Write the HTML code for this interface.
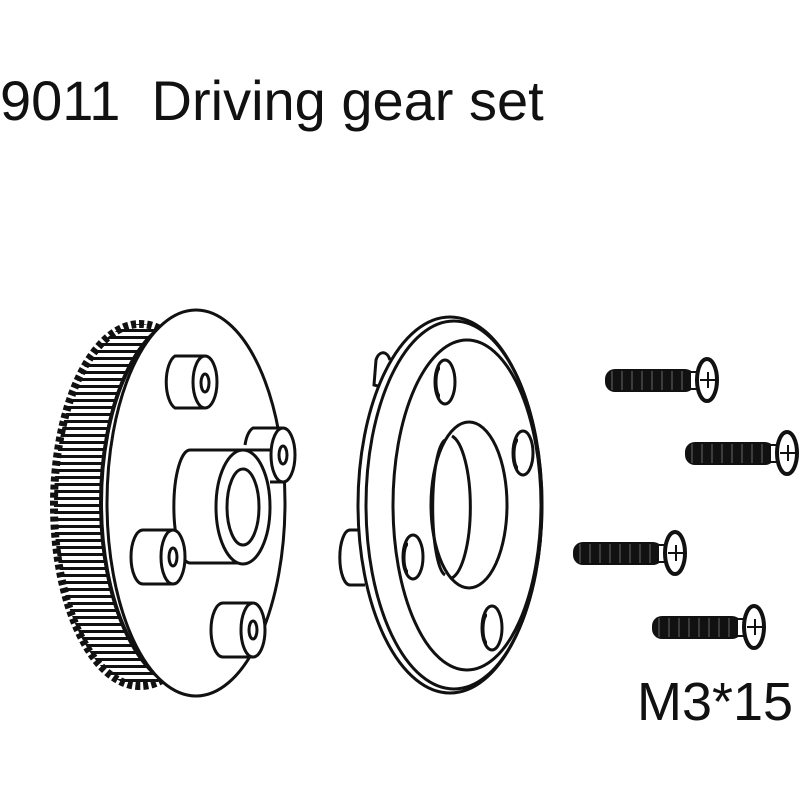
<!DOCTYPE html>
<html><head><style>body{margin:0;background:#fff}svg{display:block}</style></head><body>
<svg width="800" height="800" viewBox="0 0 800 800" xmlns="http://www.w3.org/2000/svg">
<defs>
<pattern id="st" width="8" height="7" patternUnits="userSpaceOnUse">
<rect width="8" height="7" fill="#fff"/><rect y="0" width="8" height="3" fill="#111"/></pattern>
</defs>
<text x="0" y="120" font-family="Liberation Sans, sans-serif" font-size="56" fill="#111">9011&#160;&#160;Driving gear set</text>
<text x="637" y="720" font-family="Liberation Sans, sans-serif" font-size="54" fill="#111">M3*15</text>
<g fill="none" stroke="#111" stroke-width="3">
<!-- gear -->
<ellipse cx="140" cy="505" rx="86" ry="181" fill="url(#st)" stroke="#111" stroke-width="8" stroke-dasharray="5 3"/>
<ellipse cx="190" cy="503" rx="89" ry="186" fill="#fff" stroke-width="4"/>
<ellipse cx="196" cy="503" rx="89" ry="193" fill="#fff"/>
<!-- bosses -->
<g fill="#fff">
<path d="M205 356 L175 356 A12 27 0 0 0 175 408 L205 408"/><ellipse cx="205" cy="382" rx="12" ry="26"/><ellipse cx="205" cy="383" rx="4" ry="9"/>
<path d="M270 450 L190 450 A16 56 0 0 0 190 563 L243 563"/><ellipse cx="243" cy="507" rx="27" ry="57"/><ellipse cx="243" cy="507" rx="16" ry="38"/>
<path d="M283 428 L253 428 A12 27 0 0 0 245 445 M283 482 L270 482"/><ellipse cx="283" cy="455" rx="12" ry="27"/><ellipse cx="283" cy="455" rx="4" ry="9"/>
<path d="M173 530 L143 530 A12 27 0 0 0 143 584 L173 584"/><ellipse cx="173" cy="557" rx="12" ry="27"/><ellipse cx="173" cy="557" rx="4" ry="9"/>
<path d="M253 603 L223 603 A12 27 0 0 0 223 657 L253 657"/><ellipse cx="253" cy="630" rx="12" ry="27"/><ellipse cx="253" cy="630" rx="4" ry="9"/>
</g>
<!-- flange -->
<path d="M390 360 A8 14 0 0 0 376 360 L374 385 L386 388" fill="#fff"/>
<path d="M362 530 L350 530 A10 27 0 0 0 350 585 L365 585" fill="#fff"/>
<ellipse cx="450" cy="505" rx="92" ry="188" fill="#fff"/>
<ellipse cx="454" cy="505" rx="88" ry="184"/>
<ellipse cx="467" cy="505" rx="74" ry="165"/>
<ellipse cx="469" cy="505" rx="38" ry="83"/>
<path d="M445 440 A14 68 0 0 0 445 575 M452 436 A22 72 0 0 1 452 578"/>
<ellipse cx="445" cy="382" rx="10" ry="22"/><path d="M440 368 A4 14 0 0 0 440 396"/>
<ellipse cx="523" cy="453" rx="10" ry="22"/><path d="M518 440 A4 14 0 0 0 518 468"/>
<ellipse cx="413" cy="557" rx="10" ry="22"/><path d="M408 544 A4 14 0 0 0 408 572"/>
<ellipse cx="492" cy="628" rx="10" ry="22"/><path d="M487 615 A4 14 0 0 0 487 643"/>
</g>
<!-- screws -->
<g id="scr">
<rect x="605" y="369" width="90" height="23" rx="10" fill="#111"/>
<path d="M612 371 V390 M622 371 V390 M632 371 V390 M642 371 V390 M652 371 V390 M662 371 V390 M672 371 V390 M682 371 V390" stroke="#666" stroke-width="1"/>
<rect x="690" y="372" width="8" height="17" fill="#fff" stroke="#111" stroke-width="2"/>
<ellipse cx="707" cy="380" rx="10" ry="21" fill="#fff" stroke="#111" stroke-width="4"/>
<path d="M700 380 H715 M708 372 V388" stroke="#111" stroke-width="2"/>
</g>
<use href="#scr" transform="translate(80,73)"/>
<use href="#scr" transform="translate(-32,173)"/>
<use href="#scr" transform="translate(47,247)"/>
</svg>
</body></html>
